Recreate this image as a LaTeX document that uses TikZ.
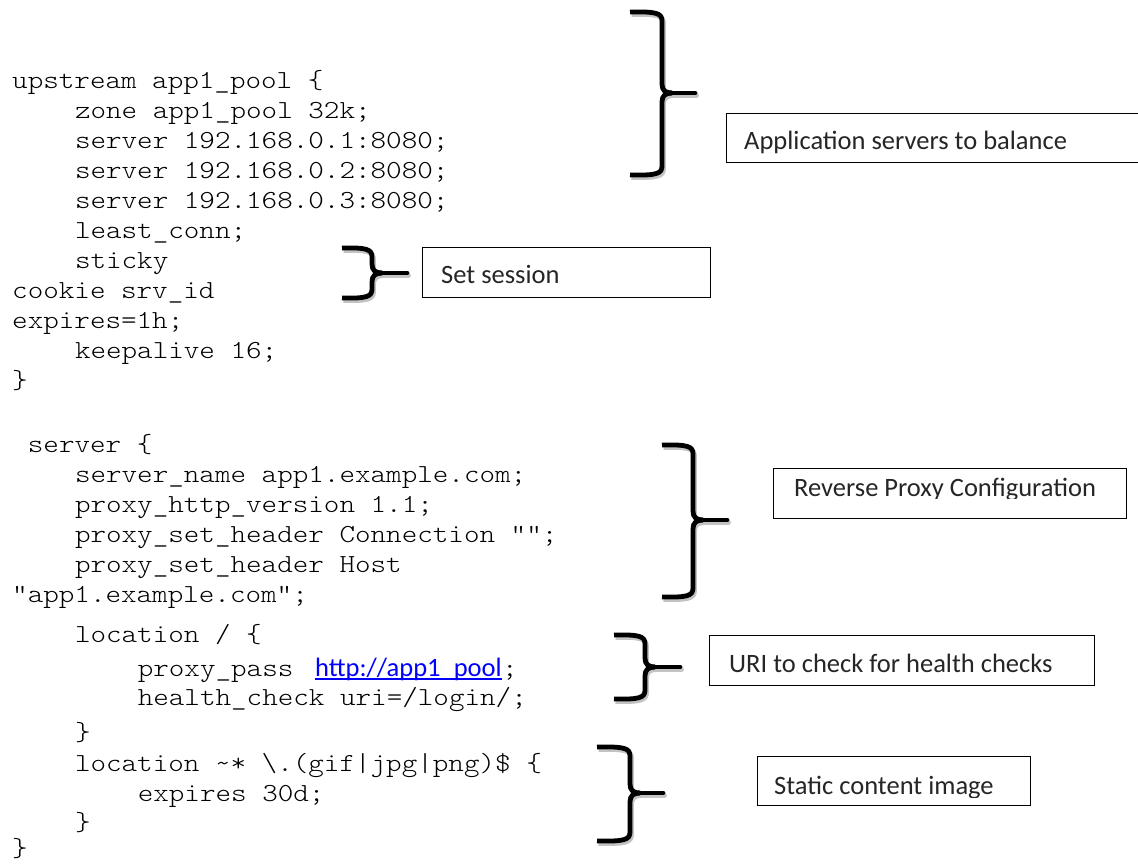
\documentclass[tikz,border=0pt]{standalone}
\usepackage{fontspec}
\newfontfamily\codefont[FakeStretch=1.14]{Latin Modern Mono Light}
\newfontfamily\notefont{Carlito}
\definecolor{linkblue}{RGB}{0,0,255}
\definecolor{notegray}{RGB}{38,38,38}
\definecolor{braceshadow}{RGB}{195,195,195}

% column positions of the monospaced listing
\newcommand\colA{12}
\newcommand\colB{27.7}
\newcommand\colE{74.8}
\newcommand\colI{137.6}

\tikzset{
  codeline/.style={anchor=base west, inner sep=0pt,
    font=\codefont\fontsize{26}{30}\selectfont, text=black},
  notebox/.style={draw=black, line width=1.4pt, anchor=north west,
    inner sep=0pt},
  notetext/.style={anchor=base west, inner sep=0pt,
    font=\notefont\fontsize{26.5}{30}\selectfont, text=notegray},
  linktext/.style={anchor=base west, inner sep=0pt,
    font=\notefont\fontsize{26.5}{30}\selectfont, text=linkblue},
  curly/.style={line width=4.8pt, line join=round, draw=black},
  curlyshade/.style={curly, draw=braceshadow},
}

% right-pointing curly brace: name, x of arm ends, x of spine, x of tip,
% y top, y of tip, y bottom
\newcommand\curlybrace[7]{%
  \foreach \st/\dx/\dy in {curlyshade/1.5/2.5, curly/0/0}{%
    \begin{scope}[shift={(\dx,\dy)}]
      \draw[\st] (#2,#5) .. controls ({#3-6},{#5-0.5}) and (#3,{#5+1}) .. (#3,{#5+9})
        -- (#3,{#6-9}) .. controls (#3,{#6-3}) and ({#3+3},#6) .. ({#3+10},#6);
      \draw[\st] (#2,#7) .. controls ({#3-6},{#7+0.5}) and (#3,{#7-1}) .. (#3,{#7-9})
        -- (#3,{#6+9}) .. controls (#3,{#6+3}) and ({#3+3},#6) .. ({#3+10},#6);
      \draw[\st, line cap=round] ({#3+8},#6) -- (#4,#6);
    \end{scope}
  }%
  \coordinate (#1) at (#4,#6);
}

\begin{document}
\begin{tikzpicture}[x=1pt, y=-1pt]
\useasboundingbox (0,0) rectangle (1138,863);
\clip (0,0) rectangle (1138,863);
\fill[white] (0,0) rectangle (1138,863);

% ---- upstream block ----
\node[codeline] (l01) at (\colA,88)  {upstream app1\_pool \{};
\node[codeline] (l02) at (\colE,118) {zone app1\_pool 32k;};
\node[codeline] (l03) at (\colE,148) {server 192.168.0.1:8080;};
\node[codeline] (l04) at (\colE,178) {server 192.168.0.2:8080;};
\node[codeline] (l05) at (\colE,208) {server 192.168.0.3:8080;};
\node[codeline] (l06) at (\colE,238) {least\_conn;};
\node[codeline] (l07) at (\colE,268) {sticky};
\node[codeline] (l08) at (\colA,298) {cookie srv\_id};
\node[codeline] (l09) at (\colA,328) {expires=1h;};
\node[codeline] (l10) at (\colE,358) {keepalive 16;};
\node[codeline] (l11) at (\colA,388) {\}};

% ---- server block ----
\node[codeline] (l12) at (\colB,452) {server \{};
\node[codeline] (l13) at (\colE,482) {server\_name app1.example.com;};
\node[codeline] (l14) at (\colE,512) {proxy\_http\_version 1.1;};
\node[codeline] (l15) at (\colE,542) {proxy\_set\_header Connection "";};
\node[codeline] (l16) at (\colE,572) {proxy\_set\_header Host};
\node[codeline] (l17) at (\colA,602) {"app1.example.com";};
\node[codeline] (l18) at (\colE,642) {location / \{};
\node[codeline] (l19) at (\colI,676) {proxy\_pass};
\node[linktext] (lnk) at (315,676) {http://app1\_pool};
\draw[linkblue, line width=1.3pt] ([yshift=-3pt]lnk.base west) -- ([yshift=-3pt]lnk.base east);
\node[codeline] (l19b) at (lnk.base east) {;};
\node[codeline] (l20) at (\colI,705) {health\_check uri=/login/;};
\node[codeline] (l21) at (\colE,740) {\}};
\node[codeline] (l22) at (\colE,771) {location \textasciitilde* \textbackslash.(gif|jpg|png)\$ \{};
\node[codeline] (l23) at (\colI,801) {expires 30d;};
\node[codeline] (l24) at (\colE,830) {\}};
\node[codeline] (l25) at (\colA,856) {\}};

% ---- braces ----
\curlybrace{brApp}{630}{662}{695}{12}{93}{175}
\curlybrace{brSess}{342}{372}{407}{248}{273}{298}
\curlybrace{brProxy}{662}{693}{727}{445}{520}{597}
\curlybrace{brUri}{614}{645}{680}{635}{667}{699}
\curlybrace{brStatic}{597}{630}{663}{747}{793}{841}

% ---- notes ----
\node[notebox, minimum width=430pt, minimum height=49pt] (bxApp) at (726,113) {};
\node[notetext] (txApp) at (744,149) {Application servers to balance};

\node[notebox, minimum width=288pt, minimum height=50pt] (bxSess) at (422,247) {};
\node[notetext] (txSess) at (441,283) {Set session};

\node[notebox, minimum width=353pt, minimum height=50pt] (bxProxy) at (773,468) {};
\begin{scope}
  \clip (bxProxy.north west) rectangle (1126,498.5);
  \node[notetext] (txProxy) at (794,496) {Reverse Proxy Configuration};
\end{scope}

\node[notebox, minimum width=385pt, minimum height=50pt] (bxUri) at (709,635) {};
\node[notetext] (txUri) at (729,672) {URI to check for health checks};

\node[notebox, minimum width=273pt, minimum height=49pt] (bxStatic) at (757,756) {};
\begin{scope}
  \clip (bxStatic.north west) rectangle (1030,797);
  \node[notetext] (txStatic) at (774,794) {Static content image};
\end{scope}
\end{tikzpicture}
\end{document}
